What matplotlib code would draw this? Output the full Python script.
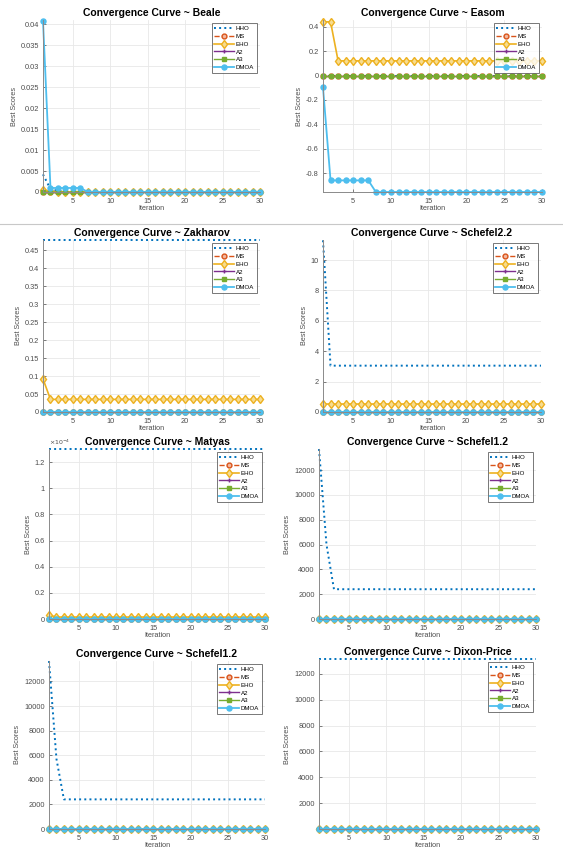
import matplotlib
matplotlib.use("Agg")
import matplotlib.pyplot as plt
from matplotlib.ticker import FuncFormatter

plt.rcParams["font.family"] = ["Liberation Sans", "DejaVu Sans"]

W, H = 563, 850
ITER = list(range(1, 31))
NAMES = ["HHO", "MS", "EHO", "A2", "A3", "DMOA"]
COLORS = ["#0072BD", "#D95319", "#EDB120", "#7E2F8E", "#77AC30", "#4DBEEE"]
ZERO = [0.0] * 30

# best score per iteration (step curves)
beale_hho = [0.0042, 0.0007, 0.0003] + [0.0] * 27
beale_eho = [0.0005, 0.0002] + [0.0] * 28
beale_dmoa = [0.0408] + [0.00096] * 5 + [0.0] * 24

easom_eho = [0.44, 0.44] + [0.12] * 28
easom_dmoa = [-0.098] + [-0.86] * 6 + [-0.955] * 23

zakharov_hho = [0.478] * 30
zakharov_eho = [0.092] + [0.035] * 29

schefel22_hho = [11.3] + [3.05] * 29
schefel22_eho = [0.5] * 30

matyas_hho = [1.3e-4] * 30
matyas_eho = [3e-6] + [1.5e-6] * 29

schefel12_hho = [13700, 6000, 2400] + [2400] * 27
schefel12b_hho = [13660, 5700, 2410] + [2410] * 27

dixon_hho = [13150] * 30

# panel boxes in pixels: left, top, right, bottom
PANELS = [
    ("Beale", [beale_hho, ZERO, beale_eho, ZERO, ZERO, beale_dmoa],
     (0, 0.041), [0, 0.005, 0.01, 0.015, 0.02, 0.025, 0.03, 0.035, 0.04], None,
     (43, 20, 260, 192)),
    ("Easom", [ZERO, ZERO, easom_eho, ZERO, ZERO, easom_dmoa],
     (-0.955, 0.455), [-0.8, -0.6, -0.4, -0.2, 0, 0.2, 0.4], None,
     (323, 20, 542, 192)),
    ("Zakharov", [zakharov_hho, ZERO, zakharov_eho, ZERO, ZERO, ZERO],
     (0, 0.478), [0, 0.05, 0.1, 0.15, 0.2, 0.25, 0.3, 0.35, 0.4, 0.45], None,
     (43, 240, 260, 412)),
    ("Schefel2.2", [schefel22_hho, ZERO, schefel22_eho, ZERO, ZERO, ZERO],
     (0, 11.32), [0, 2, 4, 6, 8, 10], None,
     (323, 240, 541, 412)),
    ("Matyas", [matyas_hho, ZERO, matyas_eho, ZERO, ZERO, ZERO],
     (0, 1.3e-4), [0, 0.2e-4, 0.4e-4, 0.6e-4, 0.8e-4, 1.0e-4, 1.2e-4], 1e-4,
     (49, 449, 265, 619)),
    ("Schefel1.2", [schefel12_hho, ZERO, ZERO, ZERO, ZERO, ZERO],
     (0, 13700), [0, 2000, 4000, 6000, 8000, 10000, 12000], None,
     (319, 449, 536, 619)),
    ("Schefel1.2", [schefel12b_hho, ZERO, ZERO, ZERO, ZERO, ZERO],
     (0, 13660), [0, 2000, 4000, 6000, 8000, 10000, 12000], None,
     (49, 661, 265, 829)),
    ("Dixon-Price", [dixon_hho, ZERO, ZERO, ZERO, ZERO, ZERO],
     (0, 13160), [2000, 4000, 6000, 8000, 10000, 12000], None,
     (319, 659, 536, 829)),
]

STYLES = [
    dict(ls=":", lw=1.4, marker=None),
    dict(ls="--", lw=1.0, marker="o", ms=3.5, mfc="#F2B8A0"),
    dict(ls="-", lw=1.2, marker="d", ms=4.5, mfc="#F7DC8F"),
    dict(ls="-", lw=1.0, marker="+", ms=3.0),
    dict(ls="-", lw=1.0, marker="s", ms=2.2),
    dict(ls="-", lw=1.3, marker="o", ms=3.6),
]

fig = plt.figure(figsize=(W / 100, H / 100), dpi=100)
fig.patch.set_facecolor("white")

# thin separator between first and second row
fig.add_artist(plt.Line2D([0, 1], [1 - 224 / H, 1 - 224 / H], color="#c8c8c8", lw=0.8))

for title, series, ylim, yticks, scale, (l, t, r, b) in PANELS:
    ax = fig.add_axes([l / W, 1 - b / H, (r - l) / W, (b - t) / H])
    for name, ys, col, st in zip(NAMES, series, COLORS, STYLES):
        ax.plot(ITER, ys, color=col, label=name, mec=col, clip_on=False, **st)
    ax.set_xlim(1, 30)
    ax.set_ylim(*ylim)
    ax.set_xticks([5, 10, 15, 20, 25, 30])
    ax.set_yticks(yticks)
    if scale:
        ax.yaxis.set_major_formatter(FuncFormatter(lambda v, p, s=scale: f"{v / s:g}"))
        ax.text(0.0, 1.01, r"$\times10^{-4}$", transform=ax.transAxes, fontsize=4.5,
                color="#4d4d4d", va="bottom")
    else:
        ax.yaxis.set_major_formatter(FuncFormatter(lambda v, p: f"{v:g}"))
    ax.grid(True, color="#e8e8e8", lw=0.6)
    ax.set_axisbelow(True)
    for s in ["top", "right"]:
        ax.spines[s].set_visible(False)
    for s in ["left", "bottom"]:
        ax.spines[s].set_color("#8a8a8a")
        ax.spines[s].set_linewidth(0.7)
    ax.tick_params(direction="in", length=2, width=0.5, labelsize=5.3, colors="#4d4d4d")
    ax.tick_params(axis="x", pad=4)
    ax.tick_params(axis="y", pad=3)
    ax.set_title(f"Convergence Curve ~ {title}", fontsize=7.5, fontweight="bold", pad=3)
    ax.set_xlabel("Iteration", fontsize=5.2, color="#4d4d4d", labelpad=0.5)
    ax.set_ylabel("Best Scores", fontsize=5.2, color="#4d4d4d", labelpad=2)
    leg = ax.legend(loc="upper right", fontsize=4.4, frameon=True, fancybox=False,
                    handlelength=3.2, handletextpad=0.3, borderpad=0.45,
                    labelspacing=0.42, borderaxespad=0.5)
    leg.get_frame().set_edgecolor("#555555")
    leg.get_frame().set_linewidth(0.7)

fig.savefig("out.png", dpi=100)
